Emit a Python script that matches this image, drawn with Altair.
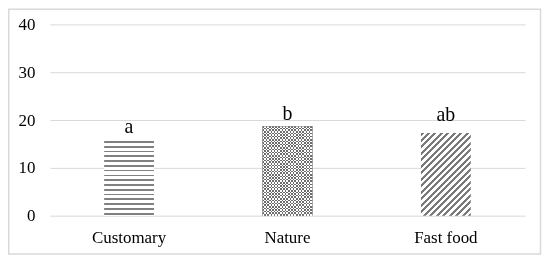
import math
import altair as alt
import pandas as pd

# ---- data ----
categories = ["Customary", "Nature", "Fast food"]
values = [15.6, 18.7, 17.3]
letters = ["a", "b", "ab"]
letter_pos = [17.3, 20.0, 19.8]
y_ticks = [0, 10, 20, 30, 40]

df = pd.DataFrame({"category": categories, "value": values,
                   "letter": letters, "letter_pos": letter_pos})

# ---- layout constants ----
W, H = 477, 192
YMAX = 40
PX = H / YMAX
BAR_W = 50
FONT = "Times New Roman, Liberation Serif, serif"


def stripes(length, period, thick, on, off):
    stops = [{"offset": 0, "color": off}]
    s = 0.0
    while s < length - 0.01:
        e = min(s + thick, length)
        a, b = round(s / length, 5), round(e / length, 5)
        stops += [{"offset": a, "color": off}, {"offset": a, "color": on},
                  {"offset": b, "color": on}, {"offset": b, "color": off}]
        s += period
    stops.append({"offset": 1, "color": off})
    return stops


def grad(x2, y2, stops):
    return {"gradient": "linear", "x1": 0, "y1": 0, "x2": x2, "y2": y2, "stops": stops}


x_enc = alt.X("category:N", sort=categories, title=None,
              scale=alt.Scale(paddingInner=0, paddingOuter=0),
              axis=alt.Axis(domain=False, ticks=False, tickSize=0, grid=False,
                            labelAngle=0, labelFont=FONT, labelFontSize=17,
                            labelColor="#000000", labelBaseline="alphabetic",
                            labelPadding=27))
y_enc = alt.Y("value:Q", title=None,
              scale=alt.Scale(domain=[0, YMAX], nice=False, zero=True),
              axis=alt.Axis(values=y_ticks, domain=False, ticks=False, tickSize=0,
                            grid=True, gridColor="#d9d9d9", gridWidth=1,
                            labelFont=FONT, labelFontSize=17, labelColor="#000000",
                            labelPadding=15))
y_plain = alt.Y("value:Q", title=None, scale=alt.Scale(domain=[0, YMAX], nice=False, zero=True))

base = alt.Chart(df)

# Customary: horizontal lines
h0 = values[0] * PX
cust = base.transform_filter(alt.datum.category == categories[0]).mark_bar(
    size=BAR_W, strokeWidth=0,
    fill=grad(0, 1, stripes(h0, 4.8, 1.7, "#808080", "#ffffff"))
).encode(x=x_enc, y=y_enc)

# Nature: checkerboard (difference of two stripe layers, softened to grey)
h1 = values[1] * PX
nat_a = base.transform_filter(alt.datum.category == categories[1]).mark_bar(
    size=BAR_W, strokeWidth=0,
    fill=grad(0, 1, stripes(h1, 3.2, 1.6, "#000000", "#ffffff"))
).encode(x=x_enc, y=y_plain)
nat_b = base.transform_filter(alt.datum.category == categories[1]).mark_bar(
    size=BAR_W, strokeWidth=0, blend="difference",
    fill=grad(1, 0, stripes(BAR_W, 3.2, 1.6, "#000000", "#ffffff"))
).encode(x=x_enc, y=y_plain)
nat_c = base.transform_filter(alt.datum.category == categories[1]).mark_bar(
    size=BAR_W, strokeWidth=0, fill="#ffffff", fillOpacity=0.42
).encode(x=x_enc, y=y_plain)

# Fast food: diagonal "/" stripes
h2 = values[2] * PX
k = (BAR_W + h2) / (BAR_W ** 2 + h2 ** 2)
diag_len = (BAR_W + h2) / math.sqrt(2)
fast = base.transform_filter(alt.datum.category == categories[2]).mark_bar(
    size=BAR_W, strokeWidth=0,
    fill=grad(round(BAR_W * k, 5), round(h2 * k, 5),
              stripes(diag_len, 4.6, 2.2, "#7a7a7a", "#ffffff"))
).encode(x=x_enc, y=y_plain)

# significance letters
txt = base.mark_text(font=FONT, fontSize=20, color="#000000",
                     baseline="alphabetic", align="center").encode(
    x=x_enc, y=alt.Y("letter_pos:Q", scale=alt.Scale(domain=[0, YMAX], nice=False)),
    text="letter:N")

# outer frame
frame = alt.Chart(pd.DataFrame({"k": [0]})).mark_rect(
    fillOpacity=0, stroke="#d9d9d9", strokeWidth=1.5
).encode(x=alt.value(-41.25), x2=alt.value(492.5),
         y=alt.value(-15.25), y2=alt.value(230.5))

chart = alt.layer(cust, nat_a, nat_b, nat_c, fast, txt, frame).properties(
    width=W, height=H,
    autosize=alt.AutoSizeParams(type="none"),
    padding={"left": 42, "top": 16, "right": 17, "bottom": 39},
    background="#ffffff",
).configure(font=FONT, view=alt.ViewConfig(stroke=None))

chart.save("out.html", embed_options={"renderer": "svg", "actions": False})
